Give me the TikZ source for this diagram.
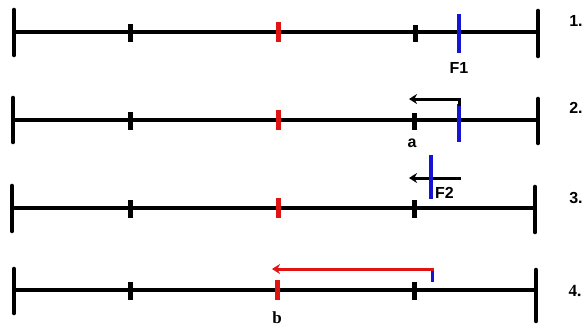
\documentclass[tikz,border=0pt]{standalone}
\usepackage{fontspec}
\setmainfont{Liberation Serif}
\newfontfamily\arialbf{Liberation Sans}[BoldFont={* Bold}]
\usetikzlibrary{arrows.meta}
\definecolor{myblue}{RGB}{20,20,210}
\definecolor{myred}{RGB}{225,20,20}
\tikzset{
  axis/.style={line width=3.6pt,black},
  endtick/.style={line width=4.6pt,black,line cap=round},
  midtick/.style={line width=5pt,black},
  redtick/.style={line width=5pt,myred},
  bluetick/.style={line width=4.2pt,myblue},
  sanslbl/.style={font=\arialbf\bfseries\fontsize{16}{16}\selectfont,inner sep=0pt},
  seriflbl/.style={font=\bfseries\fontsize{17}{17}\selectfont,inner sep=0pt},
  blackarrow/.style={line width=3pt,black,-{Stealth[length=8pt,width=10pt]}},
  redarrow/.style={line width=3pt,myred,-{Stealth[length=8pt,width=10pt]}},
}
\begin{document}
\begin{tikzpicture}[x=1pt,y=-1pt]
\useasboundingbox (0,0) rectangle (586,327);
% line 1
\draw[axis] (14,32) -- (538,32);
\draw[endtick] (14,10) -- (14,55);
\draw[endtick] (538,11) -- (538,56);
\draw[midtick] (130,24) -- (130,42);
\draw[midtick] (415,25) -- (415,42);
\draw[redtick] (278,22) -- (278,42);
\draw[bluetick] (459,14) -- (459,53);
\node[sanslbl] (f1) at (459,68) {F1};
\node[sanslbl] (n1) at (576,21) {1.};
% line 2
\draw[axis] (13,120) -- (538,120);
\draw[endtick] (13,98) -- (13,142);
\draw[endtick] (538,99) -- (538,143);
\draw[midtick] (130,112) -- (130,130);
\draw[midtick] (414,113) -- (414,130);
\draw[redtick] (278,110) -- (278,130);
\draw[bluetick] (459,104) -- (459,142);
\coordinate (a2e) at (409,99);
\draw[line width=3pt,black] (459,106) -- (459,99);
\draw[blackarrow] (460.5,99) -- (a2e);
\node[sanslbl] (na) at (412,143) {a};
\node[sanslbl] (n2) at (576,108) {2.};
% line 3
\draw[axis] (12,208) -- (535,208);
\draw[endtick] (12,186) -- (12,231);
\draw[endtick] (535,187) -- (535,232);
\draw[midtick] (130,200) -- (130,218);
\draw[midtick] (414,200) -- (414,218);
\draw[redtick] (278,198) -- (278,218);
\coordinate (a3s) at (461,178);
\coordinate (a3e) at (409,178);
\draw[blackarrow] (a3s) -- (a3e);
\draw[line width=3.6pt,myblue] (431,155) -- (431,199);
\node[sanslbl,anchor=west] (f2) at (435,193) {F2};
\node[sanslbl] (n3) at (576,198) {3.};
% line 4
\draw[axis] (14,290) -- (536,290);
\draw[endtick] (14,269) -- (14,313);
\draw[endtick] (536,270) -- (536,321);
\draw[midtick] (130,282) -- (130,300);
\draw[midtick] (414,282) -- (414,300);
\draw[redtick] (277,280) -- (277,300);
\coordinate (a4e) at (272,269);
\draw[line width=3pt,myblue] (432,269) -- (432,282);
\draw[redarrow] (433.5,269) -- (a4e);
\node[seriflbl] (nb) at (277,318) {b};
\node[seriflbl] (n4) at (575,291) {4.};
\end{tikzpicture}
\end{document}
